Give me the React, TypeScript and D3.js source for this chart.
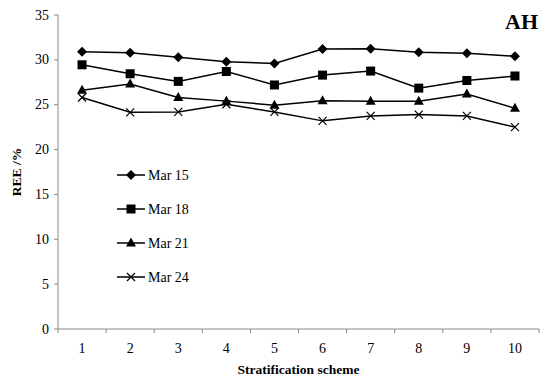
import React from "react";
import * as d3 from "d3";

const categories = [1, 2, 3, 4, 5, 6, 7, 8, 9, 10];
const mar15 = [30.9, 30.8, 30.3, 29.8, 29.6, 31.2, 31.25, 30.85, 30.75, 30.4];
const mar18 = [29.45, 28.45, 27.6, 28.7, 27.2, 28.3, 28.75, 26.85, 27.7, 28.2];
const mar21 = [26.6, 27.3, 25.8, 25.4, 24.95, 25.45, 25.4, 25.4, 26.2, 24.6];
const mar24 = [25.8, 24.15, 24.2, 25.05, 24.2, 23.2, 23.75, 23.9, 23.75, 22.5];
const seriesNames = ["Mar 15", "Mar 18", "Mar 21", "Mar 24"];
const yTicks = [0, 5, 10, 15, 20, 25, 30, 35];

const W = 543, H = 380;
const left = 58, right = 539, top = 15, bottom = 329;

function Marker({ type, x, y }: { type: number; x: number; y: number }) {
  if (type === 0) {
    const s = 5;
    return <path d={`M${x},${y - s}L${x + s},${y}L${x},${y + s}L${x - s},${y}Z`} fill="#000" />;
  }
  if (type === 1) {
    return <rect x={x - 4.5} y={y - 4.5} width={9} height={9} fill="#000" />;
  }
  if (type === 2) {
    return <path d={`M${x},${y - 5.5}L${x + 5},${y + 3.5}L${x - 5},${y + 3.5}Z`} fill="#000" />;
  }
  const s = 4;
  return (
    <path d={`M${x - s},${y - s}L${x + s},${y + s}M${x - s},${y + s}L${x + s},${y - s}`} stroke="#000" strokeWidth={1.2} fill="none" />
  );
}

export default function App() {
  const x = d3.scaleBand<number>().domain(categories).range([left, right]);
  const y = d3.scaleLinear().domain([0, 35]).range([bottom, top]);
  const series = [mar15, mar18, mar21, mar24];
  const line = d3
    .line<number>()
    .x((_, i) => (x(categories[i]) as number) + x.bandwidth() / 2)
    .y((d) => y(d));
  const font = "Liberation Serif, Times New Roman, Times, serif";
  const boundaries = categories.map((c) => x(c) as number).concat([right]);

  return (
    <svg width={W} height={H} style={{ position: "absolute", left: 0, top: 0, fontFamily: font }}>
      <rect width={W} height={H} fill="#fff" />
      <line x1={left} x2={left} y1={top} y2={bottom} stroke="#888" strokeWidth={1} />
      <line x1={left} x2={right} y1={bottom} y2={bottom} stroke="#888" strokeWidth={1} />
      {yTicks.map((t) => (
        <g key={t}>
          <line x1={left - 4} x2={left} y1={y(t)} y2={y(t)} stroke="#888" />
          <text x={left - 9} y={y(t) + 4.5} textAnchor="end" fontSize={14} style={{ fontFamily: font }}>
            {t}
          </text>
        </g>
      ))}
      {boundaries.map((b, i) => (
        <line key={i} x1={b} x2={b} y1={bottom} y2={bottom + 4} stroke="#888" />
      ))}
      {categories.map((c) => (
        <text key={c} x={(x(c) as number) + x.bandwidth() / 2} y={353} textAnchor="middle" fontSize={14} style={{ fontFamily: font }}>
          {c}
        </text>
      ))}
      <text x={(left + right) / 2} y={374} textAnchor="middle" fontSize={13.5} fontWeight="bold" style={{ fontFamily: font }}>
        Stratification scheme
      </text>
      <text transform={`translate(21,${(top + bottom) / 2}) rotate(-90)`} textAnchor="middle" fontSize={13.5} fontWeight="bold" style={{ fontFamily: font }}>
        REE /%
      </text>
      <text x={538} y={29} textAnchor="end" fontSize={22} fontWeight="bold" style={{ fontFamily: font }}>
        AH
      </text>
      {series.map((s, si) => (
        <g key={si}>
          <path d={line(s) as string} fill="none" stroke="#000" strokeWidth={1.5} />
          {s.map((v, i) => (
            <Marker key={i} type={si} x={(x(categories[i]) as number) + x.bandwidth() / 2} y={y(v)} />
          ))}
        </g>
      ))}
      {seriesNames.map((n, i) => {
        const ly = 175 + i * 34;
        return (
          <g key={n}>
            <line x1={117} x2={145} y1={ly} y2={ly} stroke="#000" strokeWidth={1.5} />
            <Marker type={i} x={131} y={ly} />
            <text x={148} y={ly + 5} fontSize={14} style={{ fontFamily: font }}>
              {n}
            </text>
          </g>
        );
      })}
    </svg>
  );
}
